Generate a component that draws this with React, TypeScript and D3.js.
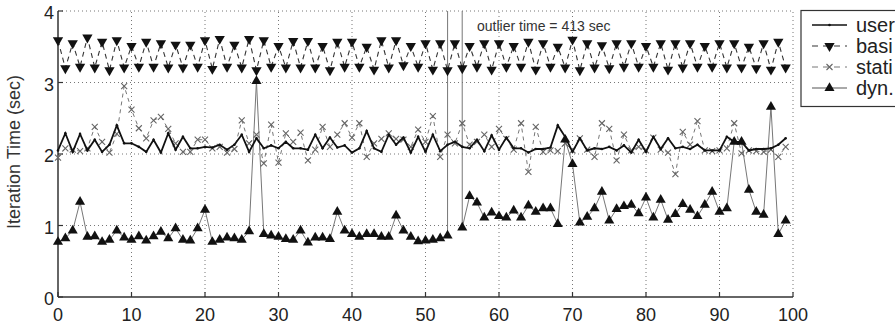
import React from "react";
import * as d3 from "d3";

const iterations: number[] = Array.from({ length: 100 }, (_, i) => i);

const userTimes: number[] = [
  2.05, 2.29, 2.03, 2.28, 2.05, 2.2, 2.03, 2.13, 2.4, 2.15,
  2.15, 2.1, 2.03, 2.2, 2.02, 2.29, 2.06, 2.24, 2.08, 2.08,
  2.1, 2.09, 2.13, 2.06, 2.13, 2.27, 2.03, 2.22, 2.08, 2.12,
  2.08, 2.17, 2.08, 2.08, 2.06, 2.27, 2.08, 2.23, 2.09, 2.12,
  2.02, 2.08, 2.32, 2.08, 2.03, 2.27, 2.13, 2.23, 2.02, 2.24,
  2.03, 2.27, 2.04, 2.13, 2.17, 2.1, 2.08, 2.2, 2.04, 2.26,
  2.06, 2.23, 2.08, 2.08, 2.02, 2.07, 2.07, 2.09, 2.4, 2.24,
  2.03, 2.22, 2.05, 2.08, 2.07, 2.1, 2.05, 2.12, 2.02, 2.2,
  2.03, 2.24, 2.07, 2.22, 2.08, 2.1, 2.07, 2.13, 2.05, 2.05,
  2.05, 2.24, 2.17, 2.17, 2.05, 2.07, 2.07, 2.08, 2.13, 2.22,
];

const basicTimes: number[] = [
  3.59, 3.2, 3.55, 3.22, 3.63, 3.21, 3.57, 3.17, 3.59, 3.21,
  3.51, 3.22, 3.57, 3.22, 3.55, 3.21, 3.53, 3.21, 3.53, 3.22,
  3.59, 3.19, 3.61, 3.22, 3.53, 3.21, 3.61, 3.17, 3.59, 3.22,
  3.51, 3.21, 3.58, 3.21, 3.58, 3.21, 3.51, 3.17, 3.57, 3.22,
  3.57, 3.22, 3.5, 3.18, 3.59, 3.21, 3.59, 3.24, 3.51, 3.22,
  3.55, 3.18, 3.55, 3.17, 3.55, 3.2, 3.51, 3.22, 3.55, 3.18,
  3.55, 3.22, 3.51, 3.22, 3.57, 3.18, 3.55, 3.22, 3.5, 3.21,
  3.6, 3.17, 3.55, 3.21, 3.52, 3.2, 3.55, 3.22, 3.55, 3.22,
  3.51, 3.22, 3.55, 3.18, 3.55, 3.21, 3.55, 3.22, 3.51, 3.22,
  3.55, 3.21, 3.55, 3.21, 3.5, 3.2, 3.55, 3.18, 3.57, 3.21,
];

const staticTimes: number[] = [
  1.95, 2.08, 2.06, 2.04, 2.08, 2.38, 2.17, 2.02, 2.28, 2.95,
  2.62, 2.36, 2.22, 2.47, 2.52, 2.35, 2.15, 2.03, 2.03, 2.2,
  2.2, 2.08, 2.1, 2.02, 2.07, 2.47, 2.15, 2.27, 1.87, 2.41,
  1.88, 2.29, 2.17, 2.3, 1.91, 2.06, 2.38, 2.1, 2.27, 2.43,
  2.23, 2.43, 1.96, 2.15, 2.21, 2.29, 2.21, 2.2, 2.1, 2.34,
  2.17, 2.53, 1.96, 2.27, 2.15, 2.43, 2.13, 2.17, 2.27, 2.1,
  2.35, 2.21, 2.06, 2.43, 1.75, 2.38, 2.03, 2.05, 2.04, 2.15,
  2.05, 2.22, 2.06, 1.96, 2.43, 2.35, 1.91, 2.27, 2.05, 2.1,
  2.05, 2.23, 2.06, 2.02, 1.72, 2.31, 2.13, 2.46, 2.05, 2.04,
  2.05, 2.08, 2.43, 2.01, 2.05, 2.04, 2.03, 2.06, 1.96, 2.1,
];

const dynTimes: number[] = [
  0.77, 0.82, 0.93, 1.33, 0.84, 0.85, 0.77, 0.8, 0.93, 0.83,
  0.8, 0.85, 0.79, 0.85, 0.91, 0.82, 0.96, 0.8, 0.79, 0.96,
  1.22, 0.77, 0.8, 0.83, 0.82, 0.8, 0.92, 3.02, 0.88, 0.86,
  0.84, 0.81, 0.8, 0.93, 0.76, 0.83, 0.83, 0.81, 1.19, 0.93,
  0.88, 0.84, 0.88, 0.88, 0.84, 0.84, 1.14, 0.93, 0.84, 0.78,
  0.79, 0.8, 0.82, 0.86, 413, 0.97, 1.41, 1.32, 1.11, 1.18,
  1.13, 1.11, 1.21, 1.11, 1.28, 1.19, 1.24, 1.24, 1.02, 2.2,
  1.86, 1.04, 1.12, 1.24, 1.47, 1.07, 1.23, 1.27, 1.29, 1.17,
  1.39, 1.11, 1.36, 1.08, 1.16, 1.3, 1.22, 1.13, 1.29, 1.47,
  1.19, 1.24, 2.17, 2.17, 1.5, 1.19, 1.15, 2.66, 0.88, 1.07,
];

const xTicks: number[] = [0, 10, 20, 30, 40, 50, 60, 70, 80, 90, 100];
const yTicks: number[] = [0, 1, 2, 3, 4];
const legendLabels: string[] = ["user", "basi", "stati", "dyn."];
const yAxisTitle = "Iteration Time (sec)";
const outlierNote = "outlier time = 413 sec";

const W = 895;
const H = 329;
const FONT = "'Liberation Sans', Arial, Helvetica, sans-serif";

const x = d3.scaleLinear().domain([0, 100]).range([58, 793]);
const y = d3.scaleLinear().domain([0, 4]).range([297, 11]);

const lineGen = d3
  .line<number>()
  .x((_, i) => x(iterations[i]))
  .y((d) => y(d));

const triDown = d3.symbol().type(d3.symbolTriangle).size(46)();
const triUp = d3.symbol().type(d3.symbolTriangle).size(44)();

function Cross({ cx, cy, s = 3, color = "#666" }: { cx: number; cy: number; s?: number; color?: string }) {
  return (
    <path
      d={`M${cx - s},${cy - s}L${cx + s},${cy + s}M${cx - s},${cy + s}L${cx + s},${cy - s}`}
      stroke={color}
      strokeWidth={1.1}
      fill="none"
    />
  );
}

export default function App() {
  const [x0, x1] = x.range();
  const [y0, y1] = y.range();
  const legendY = [25, 46, 67, 88];
  return (
    <svg
      width={W}
      height={H}
      viewBox={`0 0 ${W} ${H}`}
      style={{ position: "absolute", left: 0, top: 0, background: "#fff" }}
      fontFamily={FONT}
    >
      <defs>
        <clipPath id="plotClip">
          <rect x={x0 - 6} y={y1} width={x1 - x0 + 12} height={y0 - y1} />
        </clipPath>
      </defs>
      <rect width={W} height={H} fill="#fff" />

      {xTicks.filter((t) => t !== 0).map((t) => (
        <line key={`gx${t}`} x1={x(t)} x2={x(t)} y1={y0} y2={y1} stroke="#777" strokeWidth={1} strokeDasharray="1,3" />
      ))}
      {yTicks.filter((t) => t !== 0).map((t) => (
        <line key={`gy${t}`} x1={x0} x2={x1} y1={y(t)} y2={y(t)} stroke="#777" strokeWidth={1} strokeDasharray="1,3" />
      ))}

      <line x1={x0} x2={x0} y1={y0} y2={y1} stroke="#333" strokeWidth={1.5} />
      <line x1={x0} x2={x1} y1={y0} y2={y0} stroke="#333" strokeWidth={1.5} />
      {xTicks.map((t) => (
        <g key={`xt${t}`}>
          <line x1={x(t)} x2={x(t)} y1={y0} y2={y0 - 5} stroke="#333" strokeWidth={1.2} />
          <text x={x(t)} y={y0 + 24} textAnchor="middle" fontSize={18} fill="#222">
            {t}
          </text>
        </g>
      ))}
      {yTicks.map((t) => (
        <g key={`yt${t}`}>
          <line x1={x0} x2={x0 + 5} y1={y(t)} y2={y(t)} stroke="#333" strokeWidth={1.2} />
          <text x={x0 - 4} y={y(t) + 8} textAnchor="end" fontSize={18} fill="#222">
            {t}
          </text>
        </g>
      ))}
      <text transform={`translate(20,152) rotate(-90)`} textAnchor="middle" fontSize={18} fill="#333">
        {yAxisTitle}
      </text>

      <g clipPath="url(#plotClip)">
        <path d={lineGen(dynTimes) || ""} fill="none" stroke="#777" strokeWidth={1} />
        <path d={lineGen(staticTimes) || ""} fill="none" stroke="#777" strokeWidth={1} strokeDasharray="4,4" />
        {staticTimes.map((v, i) => (
          <Cross key={`s${i}`} cx={x(iterations[i])} cy={y(v)} />
        ))}
        <path d={lineGen(basicTimes) || ""} fill="none" stroke="#333" strokeWidth={1.1} strokeDasharray="5,4" />
        {basicTimes.map((v, i) => (
          <path key={`b${i}`} d={triDown || ""} transform={`translate(${x(iterations[i])},${y(v)}) rotate(180)`} fill="#111" />
        ))}
        <path d={lineGen(userTimes) || ""} fill="none" stroke="#111" strokeWidth={1.8} />
        {userTimes.map((v, i) => (
          <circle key={`u${i}`} cx={x(iterations[i])} cy={y(v)} r={1.3} fill="#111" />
        ))}
        {dynTimes.map((v, i) =>
          v < 4 ? (
            <path key={`d${i}`} d={triUp || ""} transform={`translate(${x(iterations[i])},${y(v)})`} fill="#111" />
          ) : null
        )}
      </g>

      <text x={477} y={31} fontSize={14} fill="#333">
        {outlierNote}
      </text>

      <rect x={801} y={10.5} width={110} height={96} fill="#fff" stroke="#333" strokeWidth={1.2} />
      {legendLabels.map((lab, i) => {
        const ly = legendY[i];
        const cx = 829.5;
        return (
          <g key={lab}>
            {i === 0 && (
              <>
                <line x1={812} x2={847} y1={ly} y2={ly} stroke="#111" strokeWidth={1.5} />
                <circle cx={cx} cy={ly} r={1.3} fill="#111" />
              </>
            )}
            {i === 1 && (
              <>
                <line x1={812} x2={847} y1={ly} y2={ly} stroke="#333" strokeWidth={1.2} strokeDasharray="6,5" />
                <path d={triDown || ""} transform={`translate(${cx},${ly}) rotate(180)`} fill="#111" />
              </>
            )}
            {i === 2 && (
              <>
                <line x1={812} x2={847} y1={ly} y2={ly} stroke="#777" strokeWidth={1} strokeDasharray="6,5" />
                <Cross cx={cx} cy={ly} />
              </>
            )}
            {i === 3 && (
              <>
                <line x1={812} x2={847} y1={ly} y2={ly} stroke="#555" strokeWidth={1.2} />
                <path d={triUp || ""} transform={`translate(${cx},${ly})`} fill="#111" />
              </>
            )}
            <text x={856} y={ly + 7} fontSize={20} fill="#222">
              {lab}
            </text>
          </g>
        );
      })}
    </svg>
  );
}
